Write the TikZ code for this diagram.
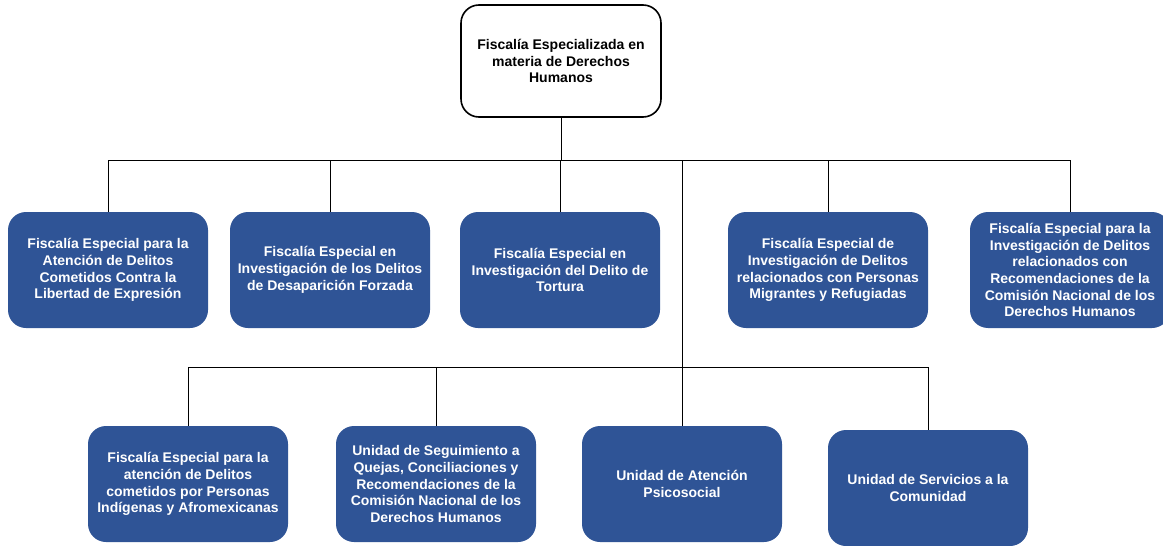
\documentclass[tikz,border=0pt]{standalone}
\usepackage{fontspec}
\setmainfont{Liberation Sans}
\definecolor{fiscblue}{RGB}{47,84,150}
\tikzset{
  unit/.style={fill=fiscblue, text=white, rounded corners=18pt, minimum width=200pt, minimum height=116pt,
    inner sep=0pt, align=center, font=\bfseries\fontsize{14}{16.7}\selectfont},
  head/.style={draw=black, line width=1.6pt, fill=white, rounded corners=18pt, minimum width=200pt, minimum height=112pt,
    inner sep=0pt, align=center, font=\bfseries\fontsize{14}{16.7}\selectfont},
  link/.style={draw=black, line width=1pt}
}
\begin{document}
\begin{tikzpicture}[x=1pt, y=-1pt]
  \useasboundingbox (0,0) rectangle (1163,546);
  % head
  \node[head] (fedh) at (561,61) {Fiscalía Especializada en\\materia de Derechos\\Humanos};
  % first row
  \node[unit] (fexp) at (108,270) {Fiscalía Especial para la\\Atención de Delitos\\Cometidos Contra la\\Libertad de Expresión};
  \node[unit] (fdes) at (330,270) {Fiscalía Especial en\\Investigación de los Delitos\\de Desaparición Forzada};
  \node[unit] (ftor) at (560,270) {Fiscalía Especial en\\Investigación del Delito de\\Tortura};
  \node[unit] (fmig) at (828,270) {Fiscalía Especial de\\Investigación de Delitos\\relacionados con Personas\\Migrantes y Refugiadas};
  \node[unit] (fcnd) at (1070,270) {Fiscalía Especial para la\\Investigación de Delitos\\relacionados con\\Recomendaciones de la\\Comisión Nacional de los\\Derechos Humanos};
  % second row
  \node[unit] (find) at (188,484) {Fiscalía Especial para la\\atención de Delitos\\cometidos por Personas\\Indígenas y Afromexicanas};
  \node[unit] (useg) at (436,484) {Unidad de Seguimiento a\\Quejas, Conciliaciones y\\Recomendaciones de la\\Comisión Nacional de los\\Derechos Humanos};
  \node[unit] (upsi) at (682,484) {Unidad de Atención\\Psicosocial};
  \node[unit] (ucom) at (928,488) {Unidad de Servicios a la\\Comunidad};
  % buses
  \coordinate (busa) at (561,160);
  \coordinate (busb) at (682,367);
  \draw[link] (fedh) -- (busa);
  \draw[link] (fexp.north |- busa) -- (fcnd.north |- busa);
  \foreach \n in {fexp,fdes,ftor,fmig,fcnd}
    \draw[link] (\n.north |- busa) -- (\n.north);
  \draw[link] (upsi.north |- busa) -- (upsi.north);
  \draw[link] (find.north |- busb) -- (ucom.north |- busb);
  \foreach \n in {find,useg,ucom}
    \draw[link] (\n.north |- busb) -- (\n.north);
\end{tikzpicture}
\end{document}
